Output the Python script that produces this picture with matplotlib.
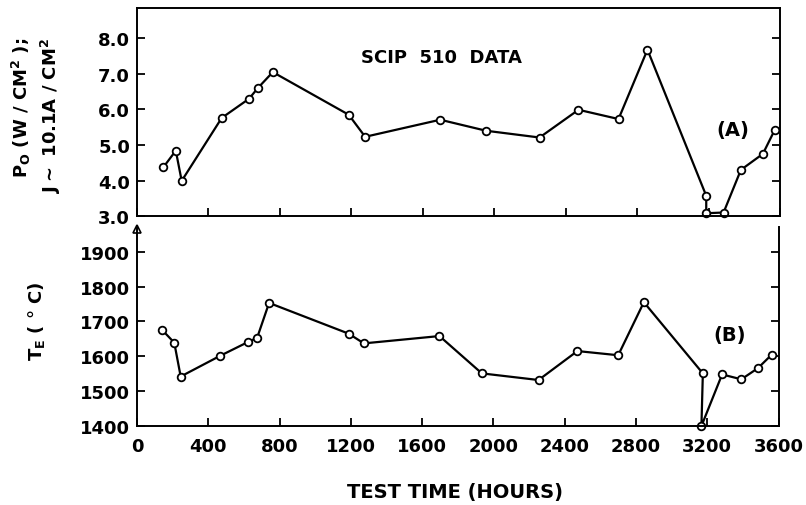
import matplotlib
matplotlib.use('Agg')
import matplotlib.pyplot as plt

plt.rcParams['font.family'] = ['DejaVu Sans']
plt.rcParams['font.weight'] = 'bold'
plt.rcParams['mathtext.default'] = 'bf'

# (A) power density vs test time
hours_a = [147, 217, 250, 474, 627, 676, 760, 1185, 1277, 1697, 1954, 2253,
           2471, 2695, 2857, 3186, 3186, 3283, 3380, 3503, 3570]
power_a = [4.37, 4.84, 3.99, 5.76, 6.30, 6.60, 7.05, 5.85, 5.23, 5.71, 5.40, 5.21,
           5.99, 5.73, 7.68, 3.57, 3.08, 3.10, 4.30, 4.75, 5.43]

# (B) emitter temperature vs test time
hours_b = [142, 209, 245, 465, 623, 674, 741, 1187, 1273, 1697, 1935, 2253,
           2471, 2700, 2844, 3175, 3167, 3283, 3391, 3484, 3562]
temp_b = [1675, 1639, 1542, 1601, 1641, 1653, 1753, 1665, 1637, 1658, 1551, 1532,
          1615, 1603, 1755, 1551, 1400, 1548, 1534, 1566, 1605]

xticks = [0, 400, 800, 1200, 1600, 2000, 2400, 2800, 3200, 3600]
yticks_a = [3.0, 4.0, 5.0, 6.0, 7.0, 8.0]
yticks_b = [1400, 1500, 1600, 1700, 1800, 1900]

fig = plt.figure(figsize=(8.06, 5.06), dpi=100)
ax1 = fig.add_axes([0.170, 0.571, 0.798, 0.411])
ax2 = fig.add_axes([0.170, 0.156, 0.796, 0.393])

mk = dict(color='black', lw=1.6, marker='o', ms=5.5, mfc='white', mec='black', mew=1.3, clip_on=False)

# 上图
ax1.plot(hours_a, power_a, **mk)
ax1.set_xlim(0, 3600)
ax1.set_ylim(3.0, 8.85)
ax1.set_yticks(yticks_a)
ax1.set_yticklabels(['%.1f' % v for v in yticks_a])
ax1.set_xticks(xticks)
ax1.set_xticklabels([])
ax1.tick_params(axis='both', direction='in', length=6, width=1.3, labelsize=13, pad=5)
ax1.tick_params(axis='y', right=True)
ax1.tick_params(axis='x', top=False)
for s in ax1.spines.values():
    s.set_linewidth(1.4)
ax1.text(0.473, 0.765, 'SCIP  510  DATA', transform=ax1.transAxes, fontsize=13,
         fontweight='bold', ha='center', va='center')
ax1.text(0.927, 0.418, '(A)', transform=ax1.transAxes, fontsize=14,
         fontweight='bold', ha='center', va='center')
ax1.text(-0.156, 0.49, '$P_O$ (W / CM$^2$ );\nJ$\\sim$ 10.1A / CM$^2$', transform=ax1.transAxes,
         fontsize=13, fontweight='bold', ha='center', va='center', rotation=90,
         linespacing=1.35, multialignment='right')

# 下图
ax2.plot(hours_b, temp_b, **mk)
ax2.set_xlim(0, 3600)
ax2.set_ylim(1400, 1970)
ax2.set_yticks(yticks_b)
ax2.set_xticks(xticks)
ax2.set_xticklabels([str(v) for v in xticks])
ax2.tick_params(axis='both', direction='in', length=6, width=1.3, labelsize=13, pad=5)
ax2.tick_params(axis='x', pad=8)
ax2.tick_params(axis='y', right=True)
ax2.spines['top'].set_visible(False)
for s in ax2.spines.values():
    s.set_linewidth(1.4)
ax2.plot([0], [1965], marker='^', ms=6, mfc='white', mec='black', mew=1.2,
         transform=ax2.get_yaxis_transform(), clip_on=False)
ax2.text(0.924, 0.462, '(B)', transform=ax2.transAxes, fontsize=14,
         fontweight='bold', ha='center', va='center')
ax2.text(-0.157, 0.53, '$T_E$ ( $\\degree$ C)', transform=ax2.transAxes,
         fontsize=13, fontweight='bold', ha='center', va='center', rotation=90)
ax2.text(0.495, -0.327, 'TEST TIME (HOURS)', transform=ax2.transAxes,
         fontsize=14, fontweight='bold', ha='center', va='center')

fig.savefig('out.png', dpi=100)
